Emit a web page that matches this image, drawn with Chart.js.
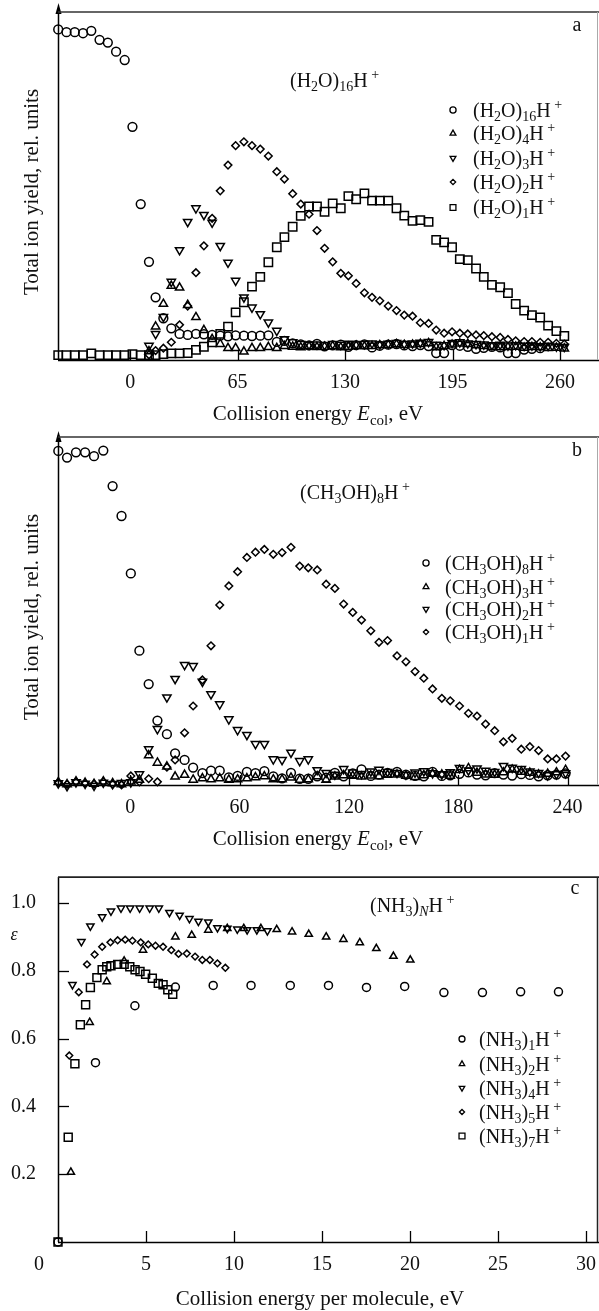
<!DOCTYPE html>
<html>
<head>
<meta charset="utf-8">
<script src="https://cdn.jsdelivr.net/npm/chart.js@4.4.1/dist/chart.umd.min.js"></script>
<style>
  html, body { margin: 0; padding: 0; background: #fff; }
  #wrap { position: relative; width: 599px; height: 1311px; overflow: hidden; background: #fff; }
  #wrap canvas { position: absolute; left: 0; }
</style>
</head>
<body>
<div id="wrap">
  <canvas id="pa" width="599" height="430" style="top:0px"></canvas>
  <canvas id="pb" width="599" height="440" style="top:430px"></canvas>
  <canvas id="pc" width="599" height="441" style="top:870px"></canvas>
</div>
<script>
// ---------------- panel a: fragments of (H2O)16H+ ----------------
const energyA = [-43.5, -38.5, -33.5, -28.5, -23.5, -18.5, -13.5, -8.5, -3.3, 1.4,
  6.4, 11.4, 15.4, 20.1, 24.9, 29.9, 34.8, 39.8, 44.6, 49.6,
  54.5, 59.2, 63.8, 68.8, 73.7, 78.7, 83.6, 88.7, 93.3, 98.3,
  103.2, 108.2, 113, 117.6, 122.5, 127.4, 132, 136.7, 141.7, 146.3,
  151, 156.1, 161.1, 165.8, 170.8, 175.5, 180.5, 185.1, 189.9, 194.7,
  199.4, 204.2, 209.2, 213.9, 218.8, 223.8, 228.5, 233.2, 238.3, 243,
  248, 252.8, 257.8, 262.6];
const yieldA16 = [95.0, 94.2, 94.2, 93.9, 94.6, 92.0, 91.2, 88.6, 86.2, 67.0,
  44.8, 28.2, 18.0, 12.0, 9.1, 7.5, 7.2, 7.5, 7.4, 7.2,
  7.0, 6.8, 7.1, 7.0, 6.9, 7.0, 7.1, 5.2, 5.5, 4.8,
  4.5, 4.2, 4.6, 3.9, 4.2, 4.4, 3.8, 4.3, 4.5, 3.6,
  4.1, 4.4, 4.6, 4.2, 4.0, 4.3, 4.0, 2.0, 2.0, 4.3,
  4.1, 3.8, 3.2, 3.5, 3.8, 3.6, 2.0, 2.0, 3.0, 3.2, 3.4];
const yieldA4 = [2.5, 9.6, 16.1, 21.3, 20.8, 15.8, 12.3, 8.6, 6.0, 4.6,
  3.4, 3.4, 2.4, 3.4, 3.4, 3.7, 3.4, 4.0, 3.8, 3.6,
  3.9, 3.7, 3.8, 4.0, 3.6, 3.8, 4.1, 3.9, 4.0, 4.2,
  4.3, 4.5, 4.3, 4.4, 4.6, 4.8, 3.6, 4.0, 4.4, 4.7,
  4.6, 4.2, 4.0, 3.8, 3.6, 3.7, 3.8, 3.5, 3.7, 3.6, 3.4, 3.5, 3.3];
const yieldA3 = [4.1, 7.5, 12.4, 22.5, 31.6, 39.7, 43.6, 41.7, 39.5, 32.8,
  28.0, 22.8, 18.0, 15.1, 13.2, 10.8, 8.4, 6.0, 5.1, 4.6,
  4.4, 4.5, 4.3, 4.6, 4.4, 4.7, 4.5, 4.6, 4.8, 4.5,
  4.7, 4.9, 4.6, 4.8, 5.0, 5.2, 4.4, 4.3, 4.9, 5.1,
  4.8, 4.6, 4.5, 4.3, 4.4, 4.2, 4.3, 4.1, 4.2, 4.0, 4.1, 3.9, 3.8];
const yieldA2 = [1.5, 2.7, 3.4, 5.1, 10.1, 15.5, 25.1, 32.8, 40.7, 48.6,
  56.0, 61.6, 62.7, 61.6, 60.6, 58.6, 54.1, 52.0, 47.8, 44.8,
  41.9, 37.2, 32.1, 28.2, 24.9, 24.2, 22.0, 19.3, 18.0, 17.0,
  15.5, 14.2, 12.9, 12.6, 10.7, 10.5, 8.6, 7.7, 8.1, 7.7,
  7.5, 7.2, 7.0, 6.7, 6.5, 5.9, 5.5, 5.3, 5.3, 5.1, 5.1, 4.8, 4.6];
const yieldA1 = [1.4, 1.4, 1.4, 1.4, 1.9, 1.4, 1.4, 1.4, 1.4, 1.7,
  1.4, 1.4, 1.4, 1.7, 1.9, 1.9, 2.0, 2.9, 3.8, 5.1,
  7.5, 9.6, 13.7, 16.6, 21.1, 23.9, 28.1, 32.4, 35.3, 38.3,
  41.4, 44.1, 44.1, 42.6, 45.0, 43.6, 47.1, 46.2, 47.9, 45.8,
  45.8, 45.8, 43.6, 41.5, 40.0, 40.2, 39.7, 34.5, 33.8, 32.4,
  29.0, 28.7, 26.3, 23.9, 21.6, 20.9, 19.2, 16.1, 14.2, 12.9,
  12.2, 9.9, 8.3, 6.9];
const ticksA = [0, 65, 130, 195, 260];
const legendA = ['(H_2O)_{16}H^{+}', '(H_2O)_4H^{+}', '(H_2O)_3H^{+}', '(H_2O)_2H^{+}', '(H_2O)_1H^{+}'];

// ---------------- panel b: fragments of (CH3OH)8H+ ----------------
const energyB = [-39.5, -34.7, -29.8, -24.8, -19.9, -14.8, -9.7, -4.8, 0.3, 5.0,
  10.1, 14.9, 20.1, 24.6, 29.8, 34.5, 39.6, 44.3, 49.1, 54.1,
  58.9, 64.0, 68.7, 73.6, 78.5, 83.3, 88.2, 93.0, 97.7, 102.6,
  107.5, 112.3, 117.1, 122.1, 126.9, 132.0, 136.5, 141.2, 146.4, 151.3,
  156.3, 161.1, 165.9, 171.0, 175.6, 180.7, 185.6, 190.3, 195.0, 200.0,
  204.8, 209.6, 214.6, 219.3, 224.1, 229.1, 233.9, 238.9];
const yieldB8 = [96.0, 94.1, 95.6, 95.6, 94.5, 96.1, 85.9, 77.3, 60.8, 38.6,
  29.0, 18.5, 14.6, 9.1, 7.2, 5.0, 3.4, 4.1, 4.1, 2.2,
  2.6, 3.8, 3.4, 4.0, 2.5, 1.9, 3.5, 1.8, 1.8, 2.5,
  2.1, 3.5, 2.5, 3.3, 4.5, 2.6, 3.0, 3.5, 3.8, 3.0,
  2.6, 2.5, 3.8, 2.6, 2.8, 3.2, 3.6, 3.0, 2.8, 3.4,
  3.0, 2.7, 3.1, 2.9, 2.5, 2.8, 3.0, 3.3];
const yieldB3 = [0.8, 0.2, 1.0, 0.6, 0.3, 1.0, 0.5, 0.2, 1.0, 1.5,
  8.5, 6.4, 5.3, 2.4, 2.9, 1.5, 1.9, 1.6, 1.9, 1.5,
  1.6, 1.9, 2.2, 2.5, 1.6, 1.6, 2.1, 1.5, 1.6, 2.5,
  1.5, 2.4, 2.8, 2.6, 2.4, 2.7, 2.5, 2.9, 3.0, 2.6,
  2.3, 2.8, 3.2, 3.0, 2.6, 4.3, 4.8, 3.5, 3.0, 2.9,
  3.6, 4.4, 3.8, 3.5, 3.0, 3.2, 3.6, 4.3];
const yieldB2 = [0.5, -0.3, 0.8, 0.4, -0.2, 0.7, 0.3, 0.6, 0.8, 3.1,
  10.3, 16.1, 25.2, 30.5, 34.5, 34.2, 29.7, 26.1, 23.2, 18.9,
  15.8, 14.4, 11.8, 11.8, 7.4, 7.2, 9.3, 6.9, 7.4, 4.3,
  3.5, 3.0, 4.6, 3.6, 3.2, 3.9, 4.4, 3.8, 3.5, 3.0,
  3.6, 4.0, 3.4, 3.1, 3.7, 4.9, 4.2, 4.8, 4.1, 3.8,
  5.5, 5.0, 4.6, 3.9, 3.5, 2.8, 3.1, 3.4];
const yieldB1 = [0.7, 0.2, 0.9, 0.5, 0.3, 0.9, 0.2, 0.0, 2.6, 0.9,
  1.8, 0.9, 5.1, 7.2, 15.0, 22.7, 30.2, 40.0, 51.7, 57.2,
  61.3, 65.4, 66.9, 67.7, 66.3, 66.8, 68.3, 62.9, 62.4, 61.8,
  57.7, 56.5, 52.0, 49.6, 47.4, 44.3, 41.0, 41.5, 37.1, 35.4,
  32.6, 30.7, 27.6, 24.9, 24.2, 22.7, 20.6, 19.8, 17.5, 15.6,
  12.4, 13.4, 10.3, 11.0, 9.9, 7.5, 7.5, 8.3];
const ticksB = [0, 60, 120, 180, 240];
const legendB = ['(CH_3OH)_8H^{+}', '(CH_3OH)_3H^{+}', '(CH_3OH)_2H^{+}', '(CH_3OH)_1H^{+}'];

// ---------------- panel c: (NH3)NH+ efficiency ----------------
const nh3E1 = [0, 2.13, 4.37, 6.67, 8.82, 10.97, 13.2, 15.37, 17.53, 19.7, 21.93, 24.12, 26.29, 28.44];
const nh3V1 = [0, 0.529, 0.697, 0.752, 0.757, 0.757, 0.757, 0.757, 0.751, 0.754, 0.736, 0.736, 0.738, 0.738];
const nh3E2 = [0.73, 1.80, 2.77, 3.76, 4.83, 6.67, 7.60, 8.54, 9.62, 10.56, 11.53, 12.43, 13.30, 14.25, 15.24, 16.22, 17.15, 18.09, 19.06, 20.02];
const nh3V2 = [0.206, 0.648, 0.768, 0.829, 0.861, 0.900, 0.905, 0.920, 0.925, 0.925, 0.925, 0.922, 0.915, 0.908, 0.900, 0.893, 0.883, 0.866, 0.843, 0.832];
const nh3E4 = [0.82, 1.33, 1.84, 2.51, 3.01, 3.58, 4.10, 4.64, 5.21, 5.73, 6.33, 6.91, 7.47, 7.98, 8.54, 9.06, 9.62, 10.19, 10.75, 11.30, 11.90];
const nh3V4 = [0.759, 0.886, 0.932, 0.959, 0.976, 0.985, 0.985, 0.985, 0.985, 0.985, 0.972, 0.964, 0.954, 0.946, 0.944, 0.927, 0.925, 0.923, 0.921, 0.921, 0.918];
const nh3E5 = [0.64, 1.18, 1.65, 2.08, 2.51, 2.98, 3.39, 3.82, 4.23, 4.70, 5.13, 5.54, 5.97, 6.44, 6.85, 7.32, 7.79, 8.20, 8.63, 9.06, 9.51];
const nh3V5 = [0.550, 0.737, 0.819, 0.848, 0.871, 0.884, 0.890, 0.892, 0.889, 0.884, 0.878, 0.874, 0.871, 0.861, 0.850, 0.851, 0.842, 0.832, 0.832, 0.822, 0.809];
const nh3E7 = [0, 0.58, 0.96, 1.27, 1.57, 1.84, 2.21, 2.51, 2.77, 3.01, 3.39, 3.76, 4.08, 4.38, 4.66, 4.98, 5.36, 5.70, 5.97, 6.24, 6.52];
const nh3V7 = [0, 0.309, 0.526, 0.641, 0.700, 0.751, 0.780, 0.803, 0.812, 0.815, 0.819, 0.819, 0.812, 0.803, 0.798, 0.790, 0.778, 0.763, 0.759, 0.744, 0.731];
const ticksCx = [0, 5, 10, 15, 20, 25, 30];
const ticksCy = [0.2, 0.4, 0.6, 0.8, 1.0];
const legendC = ['(NH_3)_1H^{+}', '(NH_3)_2H^{+}', '(NH_3)_4H^{+}', '(NH_3)_5H^{+}', '(NH_3)_7H^{+}'];

// ---------------- helpers ----------------
const SERIF = '"Liberation Serif", "Times New Roman", Times, serif';
const FS = 20;      // tick labels and legend text
const FT = 21;      // axis titles
const INK = '#111';
const STROKE = 1.5;

function fromGrid(xs, ys, start) {
  return ys.map((y, i) => ({ x: xs[start + i], y: y }));
}
function fromPairs(xs, ys) {
  return xs.map((x, i) => ({ x: x, y: ys[i] }));
}
function markerSet(label, data, style, r, rot) {
  return {
    label: label, data: data,
    pointStyle: style, pointRadius: r, pointHoverRadius: r, pointRotation: rot || 0,
    pointBorderColor: '#000', pointBackgroundColor: 'rgba(255,255,255,0)',
    pointBorderWidth: STROKE, pointHoverBorderWidth: STROKE,
    showLine: false, clip: false
  };
}

// tiny markup: _x or _{..} subscript, ^x or ^{..} superscript, $..$ italic
function parseRich(s) {
  const out = [];
  let buf = '', i = 0;
  const push = (t, k) => {
    if (!t) return;
    if (t.length > 1 && t[0] === '$' && t[t.length - 1] === '$') { t = t.slice(1, -1); k += 'i'; }
    out.push([t, k]);
  };
  while (i < s.length) {
    const c = s[i];
    if (c === '_' || c === '^') {
      push(buf, ''); buf = '';
      i++;
      let t;
      if (s[i] === '{') { const j = s.indexOf('}', i); t = s.slice(i + 1, j); i = j + 1; }
      else { t = s[i]; i++; }
      push(t, c === '_' ? 'b' : 'p');
    } else if (c === '$') {
      push(buf, ''); buf = '';
      const j = s.indexOf('$', i + 1);
      push(s.slice(i + 1, j), 'i');
      i = j + 1;
    } else { buf += c; i++; }
  }
  push(buf, '');
  return out;
}
function richFont(k, size) {
  const it = k.indexOf('i') >= 0 ? 'italic ' : '';
  const small = k.indexOf('b') >= 0 || k.indexOf('p') >= 0;
  return it + (small ? Math.round(size * 0.7) : size) + 'px ' + SERIF;
}
function drawRich(ctx, str, x, baseY, size, align) {
  const parts = parseRich(str);
  let w = 0;
  parts.forEach(p => {
    ctx.font = richFont(p[1], size);
    w += ctx.measureText(p[1].indexOf('p') >= 0 ? ' ' + p[0] : p[0]).width;
  });
  let cx = align === 'center' ? x - w / 2 : (align === 'right' ? x - w : x);
  ctx.textAlign = 'left';
  ctx.textBaseline = 'alphabetic';
  ctx.fillStyle = INK;
  parts.forEach(p => {
    const k = p[1];
    const t = k.indexOf('p') >= 0 ? ' ' + p[0] : p[0];
    ctx.font = richFont(k, size);
    const dy = k.indexOf('b') >= 0 ? size * 0.22 : (k.indexOf('p') >= 0 ? -size * 0.4 : 0);
    ctx.fillText(t, cx, baseY + dy);
    cx += ctx.measureText(t).width;
  });
}
function drawMarker(ctx, style, r, rot, x, y) {
  ctx.save();
  ctx.strokeStyle = '#000';
  ctx.fillStyle = 'rgba(255,255,255,0)';
  ctx.lineWidth = 1.3;
  Chart.helpers.drawPoint(ctx, { pointStyle: style, radius: r, rotation: rot || 0, borderWidth: 1.3 }, x, y);
  ctx.restore();
}
function line(ctx, x1, y1, x2, y2, w, color) {
  ctx.save();
  ctx.beginPath();
  ctx.lineWidth = w;
  ctx.strokeStyle = color || '#000';
  ctx.moveTo(x1, y1);
  ctx.lineTo(x2, y2);
  ctx.stroke();
  ctx.restore();
}
function arrowUp(ctx, x, tipY) {
  ctx.save();
  ctx.fillStyle = '#000';
  ctx.beginPath();
  ctx.moveTo(x, tipY);
  ctx.lineTo(x - 3, tipY + 11);
  ctx.lineTo(x + 3, tipY + 11);
  ctx.closePath();
  ctx.fill();
  ctx.restore();
}
function rotatedText(ctx, text, cx, cy, size) {
  ctx.save();
  ctx.translate(cx, cy);
  ctx.rotate(-Math.PI / 2);
  ctx.font = size + 'px ' + SERIF;
  ctx.fillStyle = INK;
  ctx.textAlign = 'center';
  ctx.textBaseline = 'middle';
  ctx.fillText(text, 0, 0);
  ctx.restore();
}

// shared scale options; chart area edges are pinned through afterFit
function xScale(min, max, ticks, bottomH, showZero) {
  return {
    type: 'linear', min: min, max: max,
    afterBuildTicks: s => { s.ticks = ticks.map(v => ({ value: v })); },
    afterFit: s => { s.height = bottomH; s.paddingLeft = 0; s.paddingRight = 0; },
    grid: { display: false, drawTicks: false },
    border: { display: false },
    ticks: {
      display: true, autoSkip: false, maxRotation: 0, padding: 11, color: INK,
      font: { family: SERIF, size: FS },
      callback: v => (v === 0 && !showZero) ? '' : String(v)
    }
  };
}
function yScale(min, max, ticks, labelled) {
  return {
    type: 'linear', min: min, max: max,
    afterBuildTicks: s => { s.ticks = ticks.map(v => ({ value: v })); },
    afterFit: s => { s.width = 58; s.paddingTop = 0; s.paddingBottom = 0; },
    grid: { display: false, drawTicks: false },
    border: { display: false },
    ticks: {
      display: labelled, autoSkip: false, padding: 22, color: INK,
      font: { family: SERIF, size: FS },
      callback: v => Number(v).toFixed(1)
    }
  };
}
function baseOptions(padTop, xs, ys) {
  return {
    responsive: false, animation: false, events: [],
    layout: { padding: { top: padTop, left: 0, right: 1, bottom: 0 } },
    plugins: { legend: { display: false }, tooltip: { enabled: false } },
    scales: { x: xs, y: ys }
  };
}

// ---------------- panel a ----------------
const stylesA = [['circle', 4.4, 0], ['triangle', 4.8, 0], ['triangle', 4.8, 180], ['rectRot', 3.8, 0], ['rect', 5.9, 0]];
new Chart(document.getElementById('pa'), {
  type: 'scatter',
  data: { datasets: [
    markerSet(legendA[0], fromGrid(energyA, yieldA16, 0), 'circle', 4.4, 0),
    markerSet(legendA[1], fromGrid(energyA, yieldA4, 11), 'triangle', 4.8, 0),
    markerSet(legendA[2], fromGrid(energyA, yieldA3, 11), 'triangle', 4.8, 180),
    markerSet(legendA[3], fromGrid(energyA, yieldA2, 11), 'rectRot', 3.8, 0),
    markerSet(legendA[4], fromGrid(energyA, yieldA1, 0), 'rect', 5.9, 0)
  ] },
  options: baseOptions(12, xScale(-43.63, 279.1, ticksA, 70, true), yScale(0, 100, [], false)),
  plugins: [{
    id: 'decorA',
    afterDraw(chart) {
      const ctx = chart.ctx, a = chart.chartArea, sx = chart.scales.x;
      line(ctx, a.left + 0.5, a.bottom, a.left + 0.5, 10, 1.5);
      arrowUp(ctx, a.left + 0.5, 3);
      line(ctx, a.left, a.bottom + 0.5, 599, a.bottom + 0.5, 1.6);
      line(ctx, a.left, a.top, 599, a.top, 1.7, '#333');
      line(ctx, 597.5, a.top, 597.5, a.bottom, 1, '#aaa');
      ticksA.forEach(v => { const p = Math.round(sx.getPixelForValue(v)) + 0.5; line(ctx, p, a.bottom, p, a.bottom - 10, 1.3); });
      rotatedText(ctx, 'Total ion yield, rel. units', 32, (a.top + a.bottom) / 2 + 6, FT);
      drawRich(ctx, 'Collision energy $E$_{col}, eV', 318, 420, FT, 'center');
      ctx.font = FS + 'px ' + SERIF; ctx.fillStyle = INK; ctx.textAlign = 'center'; ctx.textBaseline = 'alphabetic';
      ctx.fillText('a', 577, 31);
      drawRich(ctx, '(H_2O)_{16}H^{+}', 290, 87, FS, 'left');
      const rows = [110, 133.5, 158, 182, 207.5];
      legendA.forEach((t, i) => {
        const st = stylesA[i];
        drawMarker(ctx, st[0], st[1] * 0.7, st[2], 453, rows[i]);
        drawRich(ctx, t, 473, rows[i] + 6.5, FS, 'left');
      });
    }
  }]
});

// ---------------- panel b ----------------
const stylesB = [['circle', 4.4, 0], ['triangle', 4.8, 0], ['triangle', 4.8, 180], ['rectRot', 3.8, 0]];
new Chart(document.getElementById('pb'), {
  type: 'scatter',
  data: { datasets: [
    markerSet(legendB[0], fromGrid(energyB, yieldB8, 0), 'circle', 4.4, 0),
    markerSet(legendB[1], fromGrid(energyB, yieldB3, 0), 'triangle', 4.8, 0),
    markerSet(legendB[2], fromGrid(energyB, yieldB2, 0), 'triangle', 4.8, 180),
    markerSet(legendB[3], fromGrid(energyB, yieldB1, 0), 'rectRot', 3.8, 0)
  ] },
  options: baseOptions(7, xScale(-39.67, 253.8, ticksB, 85, true), yScale(0, 100, [], false)),
  plugins: [{
    id: 'decorB',
    afterDraw(chart) {
      const ctx = chart.ctx, a = chart.chartArea, sx = chart.scales.x;
      line(ctx, a.left + 0.5, a.bottom, a.left + 0.5, 5, 1.5);
      arrowUp(ctx, a.left + 0.5, 1);
      line(ctx, a.left, a.bottom + 0.5, 599, a.bottom + 0.5, 1.6);
      line(ctx, a.left, a.top, 599, a.top, 1.7, '#333');
      line(ctx, 597.5, a.top, 597.5, a.bottom, 1, '#aaa');
      ticksB.forEach(v => { const p = Math.round(sx.getPixelForValue(v)) + 0.5; line(ctx, p, a.bottom, p, a.bottom - 10, 1.3); });
      rotatedText(ctx, 'Total ion yield, rel. units', 32, (a.top + a.bottom) / 2 + 6, FT);
      drawRich(ctx, 'Collision energy $E$_{col}, eV', 318, 415, FT, 'center');
      ctx.font = FS + 'px ' + SERIF; ctx.fillStyle = INK; ctx.textAlign = 'center'; ctx.textBaseline = 'alphabetic';
      ctx.fillText('b', 577, 26);
      drawRich(ctx, '(CH_3OH)_8H^{+}', 300, 69, FS, 'left');
      const rows = [133, 157, 179, 202];
      legendB.forEach((t, i) => {
        const st = stylesB[i];
        drawMarker(ctx, st[0], st[1] * 0.7, st[2], 426, rows[i]);
        drawRich(ctx, t, 445, rows[i] + 6.5, FS, 'left');
      });
    }
  }]
});

// ---------------- panel c ----------------
const stylesC = [['circle', 4.0, 0], ['triangle', 4.2, 0], ['triangle', 4.2, 180], ['rectRot', 3.4, 0], ['rect', 5.6, 0]];
new Chart(document.getElementById('pc'), {
  type: 'scatter',
  data: { datasets: [
    markerSet(legendC[0], fromPairs(nh3E1, nh3V1), 'circle', 4.0, 0),
    markerSet(legendC[1], fromPairs(nh3E2, nh3V2), 'triangle', 4.2, 0),
    markerSet(legendC[2], fromPairs(nh3E4, nh3V4), 'triangle', 4.2, 180),
    markerSet(legendC[3], fromPairs(nh3E5, nh3V5), 'rectRot', 3.4, 0),
    markerSet(legendC[4], fromPairs(nh3E7, nh3V7), 'rect', 5.6, 0)
  ] },
  options: baseOptions(6, xScale(0, 30.34, ticksCx, 69, false), yScale(0, 1.0765, ticksCy, true)),
  plugins: [{
    id: 'decorC',
    afterDraw(chart) {
      const ctx = chart.ctx, a = chart.chartArea, sx = chart.scales.x, sy = chart.scales.y;
      line(ctx, a.left + 0.5, a.bottom, a.left + 0.5, a.top, 1.5);
      line(ctx, a.left, a.bottom + 0.5, 599, a.bottom + 0.5, 1.6);
      line(ctx, a.left, a.top, 599, a.top, 1.7, '#222');
      line(ctx, 597.5, a.top, 597.5, a.bottom, 1.5, '#222');
      ticksCx.slice(1).forEach(v => { const p = Math.round(sx.getPixelForValue(v)) + 0.5; line(ctx, p, a.bottom, p, a.bottom - 11, 1.3); });
      ticksCy.forEach(v => { const p = Math.round(sy.getPixelForValue(v)) + 0.5; line(ctx, a.left, p, a.left + 11, p, 1.3); });
      // origin label sits left of the axis corner, on the tick-label row
      ctx.font = FS + 'px ' + SERIF; ctx.fillStyle = INK; ctx.textAlign = 'center'; ctx.textBaseline = 'middle';
      ctx.fillText('0', 39, a.bottom + 11 + FS * 0.6);
      ctx.font = 'italic 18px ' + SERIF;
      ctx.fillText('\u03b5', 14, 65);
      ctx.textBaseline = 'alphabetic';
      ctx.font = FT + 'px ' + SERIF;
      ctx.fillText('Collision energy per molecule, eV', 320, 435);
      ctx.font = FS + 'px ' + SERIF;
      ctx.fillText('c', 575, 24);
      drawRich(ctx, '(NH_3)_{$N$}H^{+}', 370, 42, FS, 'left');
      const rows = [169, 194, 218, 242, 266];
      legendC.forEach((t, i) => {
        const st = stylesC[i];
        drawMarker(ctx, st[0], st[1] * 0.75, st[2], 462, rows[i]);
        drawRich(ctx, t, 479, rows[i] + 6.5, FS, 'left');
      });
    }
  }]
});
</script>
</body>
</html>
